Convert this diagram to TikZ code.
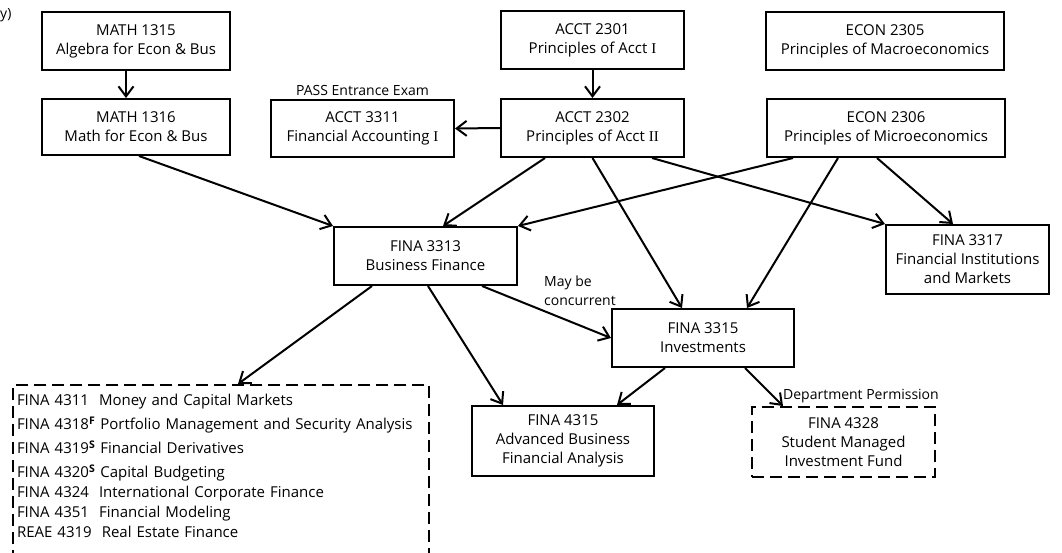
\documentclass[tikz,border=0pt]{standalone}
\usepackage{fontspec}
\setmainfont{Open Sans}
\newfontfamily\romfont{Liberation Serif}
\usetikzlibrary{arrows.meta}
\begin{document}
\begin{tikzpicture}[x=1pt,y=-1pt,
    course/.style={draw, line width=2pt, align=center, inner sep=0pt,
        font=\fontsize{15}{19}\selectfont},
    elective/.style={course, dash pattern=on 12pt off 6pt},
    arr/.style={-{Straight Barb[length=10pt,width=15pt]}, line width=2pt},
    note/.style={inner sep=1pt, font=\fontsize{14}{17}\selectfont}]
\useasboundingbox (0,0) rectangle (1062,552);

\node[note, anchor=west] (cut) at (-1,15) {y)};

% first and second year
\node[course, minimum width=188pt, minimum height=58pt] (m1315) at (136,41) {MATH 1315\\Algebra for Econ \& Bus};
\node[course, minimum width=188pt, minimum height=56pt] (m1316) at (136,127) {MATH 1316\\Math for Econ \& Bus};
\node[course, minimum width=183pt, minimum height=58pt] (a2301) at (592.5,40) {ACCT 2301\\Principles of Acct {\romfont I}};
\node[course, minimum width=183pt, minimum height=58pt] (a2302) at (592.5,128) {ACCT 2302\\Principles of Acct {\romfont II}};
\node[course, minimum width=183pt, minimum height=57pt] (a3311) at (362.5,128.5) {ACCT 3311\\Financial Accounting {\romfont I}};
\node[course, minimum width=238pt, minimum height=58pt] (e2305) at (885,41) {ECON 2305\\Principles of Macroeconomics};
\node[course, minimum width=238pt, minimum height=58pt] (e2306) at (886,128) {ECON 2306\\Principles of Microeconomics};

% finance core
\node[course, minimum width=183pt, minimum height=58pt] (f3313) at (425.5,256) {FINA 3313\\Business Finance};
\node[course, minimum width=163pt, minimum height=69pt] (f3317) at (967.5,259.5) {FINA 3317\\Financial Institutions\\and Markets};
\node[course, minimum width=182pt, minimum height=58pt] (f3315) at (703,338) {FINA 3315\\Investments};
\node[course, minimum width=182pt, minimum height=70pt] (f4315) at (563,441) {FINA 4315\\Advanced Business\\Financial Analysis};
\node[elective, minimum width=183pt, minimum height=70pt] (f4328) at (843.5,442) {FINA 4328\\Student Managed\\Investment Fund};

% electives
\node[elective, anchor=north west, align=left, text width=408pt, inner xsep=4pt, inner ysep=9pt,
    font=\fontsize{15}{20}\selectfont] (list) at (12,384) {%
FINA 4311\ \ Money and Capital Markets\\[4pt]
FINA 4318\textsuperscript{\textbf{F}} Portfolio Management and Security Analysis\\[4pt]
FINA 4319\textsuperscript{\textbf{S}} Financial Derivatives\\[4pt]
FINA 4320\textsuperscript{\textbf{S}} Capital Budgeting\\
FINA 4324\ \ International Corporate Finance\\
FINA 4351\ \ Financial Modeling\\
REAE 4319\ \ Real Estate Finance\\[-8pt]\mbox{}};

\node[note, anchor=south] (pass) at ([yshift=2pt]a3311.north) {PASS Entrance Exam};
\node[note, anchor=south east] (perm) at ([xshift=4pt,yshift=2pt]f4328.north east) {Department Permission};
\node[note, anchor=north west, align=left, font=\fontsize{14}{19}\selectfont] (concur) at (543,275) {May be\\concurrent};

\draw[arr] ([xshift=-10pt]m1315.south) -- ([xshift=-10pt]m1316.north);
\draw[arr] (a2301.south) -- (a2302.north);
\draw[arr] (a2302.west) -- (a3311.east);

\draw[arr] ([xshift=3pt]m1316.south) -- (f3313.north west);
\draw[arr] ([xshift=-47.5pt]a2302.south) -- ([xshift=17.5pt]f3313.north);
\draw[arr] ([xshift=-93pt]e2306.south) -- (f3313.north east);
\draw[arr] (a2302.south) -- ([xshift=-21pt]f3315.north);
\draw[arr] ([xshift=-48pt]e2306.south) -- ([xshift=44pt]f3315.north);
\draw[arr] ([xshift=59.5pt]a2302.south) -- (f3317.north west);
\draw[arr] ([xshift=-9pt]e2306.south) -- ([xshift=-14.5pt]f3317.north);

\draw[arr] ([xshift=56.5pt]f3313.south) -- (f3315.west);
\draw[arr] ([xshift=-53.5pt]f3313.south) -- ([xshift=17pt]list.north);
\draw[arr] ([xshift=2.5pt]f3313.south) -- ([xshift=-60pt]f4315.north);
\draw[arr] ([xshift=-38pt]f3315.south) -- ([xshift=54pt]f4315.north);
\draw[arr] ([xshift=42pt]f3315.south) -- ([xshift=-60.5pt]f4328.north);

\end{tikzpicture}
\end{document}
